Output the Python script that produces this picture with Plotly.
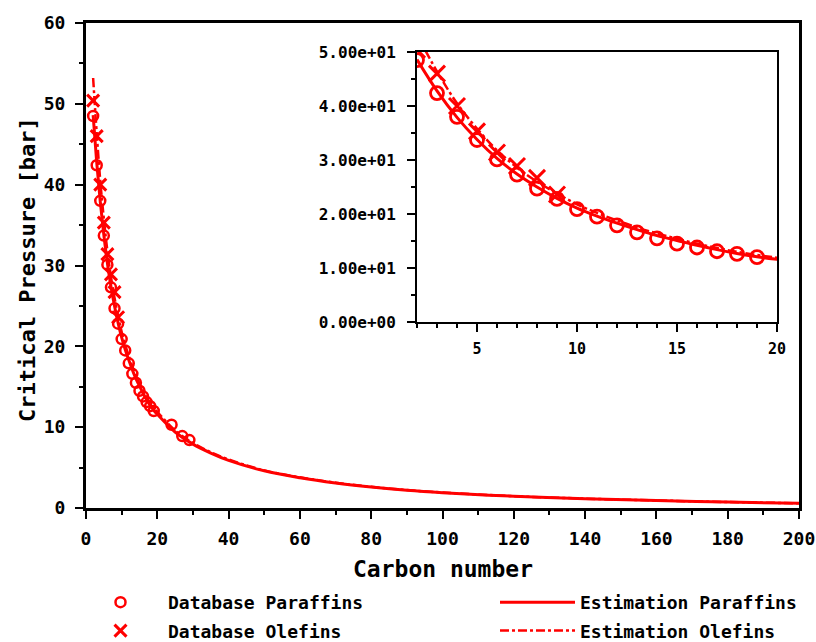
import plotly.graph_objects as go

# ---- data ----
db_par_n = [2, 3, 4, 5, 6, 7, 8, 9, 10, 11, 12, 13, 14, 15, 16, 17, 18, 19, 24, 27, 29]
db_par_pc = [48.5, 42.4, 38.0, 33.7, 30.1, 27.3, 24.7, 22.8, 20.9, 19.5, 17.9, 16.6, 15.5,
             14.5, 13.8, 13.1, 12.6, 12.0, 10.3, 8.9, 8.4]

db_ole_n = [2, 3, 4, 5, 6, 7, 8, 9]
db_ole_pc = [50.4, 46.0, 40.0, 35.3, 31.4, 28.9, 26.7, 23.6]

est_n = [2, 3, 4, 5, 6, 7, 8, 9, 10, 11, 12, 13, 14, 15, 16, 17, 18, 19, 20,
         25, 30, 35, 40, 50, 60, 70, 80, 90, 100, 120, 140, 160, 180, 200]
est_par_pc = [48.6, 42.8, 37.9, 33.8, 30.3, 27.4, 25.0, 22.9, 21.1, 19.6, 18.3, 17.1, 16.0,
              15.1, 14.2, 13.4, 12.7, 12.1, 11.6, 9.4, 7.9, 6.8, 5.9, 4.6, 3.75, 3.1, 2.6,
              2.2, 1.9, 1.45, 1.15, 0.92, 0.73, 0.58]
est_ole_pc = [53.2, 46.4, 40.5, 35.8, 31.8, 28.6, 26.0, 23.8, 21.8, 20.2, 18.8, 17.5, 16.4,
              15.4, 14.5, 13.7, 13.0, 12.4, 11.9, 9.6, 8.05, 6.9, 6.0, 4.65, 3.8, 3.13, 2.62,
              2.22, 1.92, 1.46, 1.16, 0.93, 0.74, 0.59]

main_yticks = [0, 10, 20, 30, 40, 50, 60]
main_xticks = [0, 20, 40, 60, 80, 100, 120, 140, 160, 180, 200]
inset_yticks = [0, 10, 20, 30, 40, 50]
inset_xticks = [5, 10, 15, 20]

RED = "#FF0000"
FONT = "DejaVu Sans Mono"

fig = go.Figure()

# main plot
fig.add_trace(go.Scatter(x=db_par_n, y=db_par_pc, mode="markers", name="Database Paraffins",
                         marker=dict(symbol="circle-open", size=10, color=RED, line=dict(width=2.5, color=RED)),
                         legend="legend", legendgroup="g1"))
fig.add_trace(go.Scatter(x=db_ole_n, y=db_ole_pc, mode="markers", name="Database Olefins",
                         marker=dict(symbol="x-thin-open", size=12, color=RED, line=dict(width=3, color=RED)),
                         legend="legend", legendgroup="g2"))
fig.add_trace(go.Scatter(x=est_n, y=est_par_pc, mode="lines", name="Estimation Paraffins",
                         line=dict(color=RED, width=3, shape="spline"), legend="legend2", legendgroup="g3"))
fig.add_trace(go.Scatter(x=est_n, y=est_ole_pc, mode="lines", name="Estimation Olefins",
                         line=dict(color=RED, width=2.5, dash="dashdot", shape="spline"),
                         legend="legend2", legendgroup="g4"))

# inset
fig.add_trace(go.Scatter(x=est_n, y=est_par_pc, mode="lines", showlegend=False,
                         line=dict(color=RED, width=3, shape="spline"), xaxis="x2", yaxis="y2"))
fig.add_trace(go.Scatter(x=est_n, y=est_ole_pc, mode="lines", showlegend=False,
                         line=dict(color=RED, width=2.5, dash="dashdot", shape="spline"), xaxis="x2", yaxis="y2"))
fig.add_trace(go.Scatter(x=db_par_n, y=db_par_pc, mode="markers", showlegend=False,
                         marker=dict(symbol="circle-open", size=13, color=RED, line=dict(width=2.8, color=RED)),
                         xaxis="x2", yaxis="y2"))
fig.add_trace(go.Scatter(x=db_ole_n, y=db_ole_pc, mode="markers", showlegend=False,
                         marker=dict(symbol="x-thin-open", size=16, color=RED, line=dict(width=3, color=RED)),
                         xaxis="x2", yaxis="y2"))

axis_common = dict(showgrid=False, zeroline=False, showline=True, linecolor="black",
                   mirror=True, ticks="outside", tickcolor="black", automargin=False)

fig.update_layout(
    width=816, height=642,
    margin=dict(l=86, r=17, t=23, b=134, autoexpand=False),
    plot_bgcolor="white", paper_bgcolor="white",
    font=dict(family=FONT, color="black"),
    xaxis=dict(**axis_common, range=[0, 200], tickvals=main_xticks, linewidth=3, ticklen=8, tickwidth=2,
               tickfont=dict(size=18, family=FONT, weight="bold"), ticklabelstandoff=4,
               minor=dict(ticks="outside", dtick=10, ticklen=4, tickwidth=2, tickcolor="black")),
    yaxis=dict(**axis_common, range=[0, 60], tickvals=main_yticks, linewidth=3, ticklen=8, tickwidth=2,
               tickfont=dict(size=18, family=FONT, weight="bold"), ticklabelstandoff=6,
               minor=dict(ticks="outside", dtick=5, ticklen=4, tickwidth=2, tickcolor="black")),
    xaxis2=dict(**axis_common, domain=[(417 - 86) / 713, (777 - 86) / 713], anchor="y2",
                range=[2, 20], tickvals=inset_xticks, linewidth=2, ticklen=8, tickwidth=2,
                tickfont=dict(size=15, family=FONT, weight="bold"), ticklabelstandoff=4,
                minor=dict(ticks="outside", dtick=1, ticklen=4, tickwidth=1.5, tickcolor="black")),
    yaxis2=dict(**axis_common, domain=[(508 - 322) / 485, (508 - 52) / 485], anchor="x2",
                range=[0, 50], tickvals=inset_yticks, ticktext=[f"{v:.2e}" for v in inset_yticks],
                linewidth=2, ticklen=8, tickwidth=2,
                tickfont=dict(size=16, family=FONT, weight="bold"), ticklabelstandoff=8,
                minor=dict(ticks="outside", dtick=5, ticklen=4, tickwidth=1.5, tickcolor="black")),
    annotations=[
        dict(text="Carbon number", xref="paper", yref="paper", x=0.5, y=(508 - 569) / 485,
             xanchor="center", yanchor="middle", showarrow=False,
             font=dict(size=23, family=FONT, weight="bold", color="black")),
        dict(text="Critical Pressure [bar]", xref="paper", yref="paper", x=(27 - 86) / 713,
             y=(508 - 270) / 485, xanchor="center", yanchor="middle", showarrow=False, textangle=-90,
             font=dict(size=22, family=FONT, weight="bold", color="black")),
    ],
    legend=dict(xref="container", yref="container", x=73 / 816, y=1 - 584 / 642,
                xanchor="left", yanchor="top", orientation="v", itemwidth=85,
                font=dict(size=18, family=FONT, weight="bold"), bgcolor="rgba(0,0,0,0)",
                tracegroupgap=2),
    legend2=dict(xref="container", yref="container", x=495 / 816, y=1 - 584 / 642,
                 xanchor="left", yanchor="top", orientation="v", itemwidth=75,
                 font=dict(size=18, family=FONT, weight="bold"), bgcolor="rgba(0,0,0,0)",
                 tracegroupgap=2),
)

fig.write_html("out.html", config={"displayModeBar": False},
               post_script="document.body.style.margin='0';")
